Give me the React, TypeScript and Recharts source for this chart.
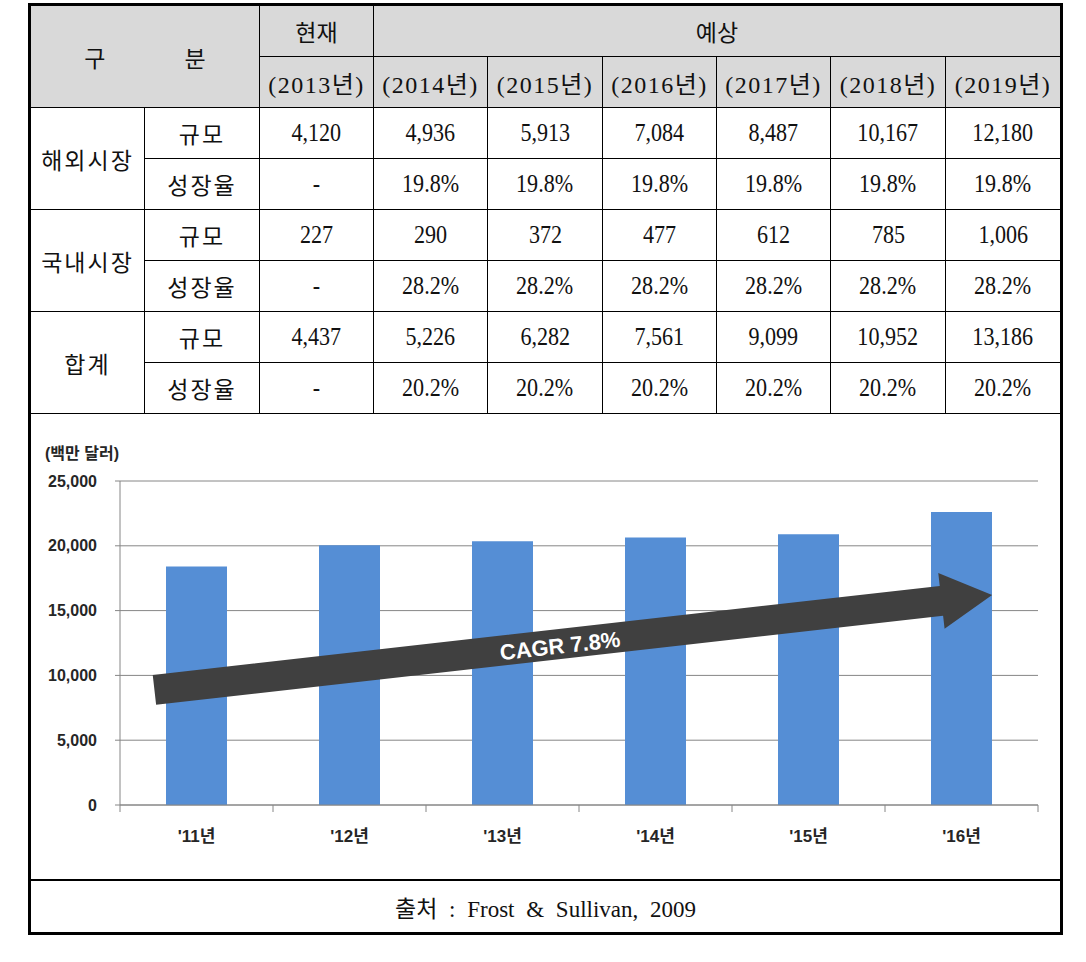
import React from 'react';
import { BarChart, Bar, XAxis, YAxis, CartesianGrid, ReferenceLine } from 'recharts';

// ---------- table data ----------
const headerCurrent = '현재';
const headerForecast = '예상';
const headerYears = ['(2013년)', '(2014년)', '(2015년)', '(2016년)', '(2017년)', '(2018년)', '(2019년)'];
const rowGroups = ['해외시장', '국내시장', '합계'];
const rowKinds = ['규모', '성장율'];
const overseasSize = ['4,120', '4,936', '5,913', '7,084', '8,487', '10,167', '12,180'];
const overseasGrowth = ['-', '19.8%', '19.8%', '19.8%', '19.8%', '19.8%', '19.8%'];
const domesticSize = ['227', '290', '372', '477', '612', '785', '1,006'];
const domesticGrowth = ['-', '28.2%', '28.2%', '28.2%', '28.2%', '28.2%', '28.2%'];
const totalSize = ['4,437', '5,226', '6,282', '7,561', '9,099', '10,952', '13,186'];
const totalGrowth = ['-', '20.2%', '20.2%', '20.2%', '20.2%', '20.2%', '20.2%'];
const sourceText = '출처 : Frost & Sullivan, 2009';

// ---------- chart data ----------
const categories = ["'11년", "'12년", "'13년", "'14년", "'15년", "'16년"];
const marketSize = [18400, 20050, 20350, 20650, 20900, 22600];
const yTicks = [0, 5000, 10000, 15000, 20000, 25000];
const unitLabel = '(백만 달러)';
const cagrLabel = 'CAGR 7.8%';
const cagrStartValue = 9250;
const cagrEndValue = 15930;

const chartData = categories.map((c, i) => ({ cat: c, value: marketSize[i] }));
const tableRows = [
  [overseasSize, overseasGrowth],
  [domesticSize, domesticGrowth],
  [totalSize, totalGrowth],
];

const X0 = 31;
const COLW = 1029 / 9;
const Y0 = 6;
const ROWH = 51;
const SERIF = "'Liberation Serif', 'DejaVu Serif', 'Noto Sans CJK KR', serif";
const SANS = "'Liberation Sans', 'Noto Sans CJK KR', sans-serif";

function Cell(props: any) {
  const { c, r, cs = 1, rs = 1, bg = '#fff', children, style } = props;
  const left = Math.round(X0 + c * COLW);
  const right = Math.round(X0 + (c + cs) * COLW);
  const top = Y0 + r * ROWH;
  return (
    <div
      style={{
        position: 'absolute',
        left,
        top,
        width: right - left,
        height: rs * ROWH,
        boxSizing: 'border-box',
        borderRight: c + cs < 9 ? '1px solid #000' : 'none',
        borderBottom: '1px solid #000',
        background: bg,
        display: 'flex',
        alignItems: 'center',
        justifyContent: 'center',
        fontFamily: SERIF,
        fontSize: 23,
        color: '#111',
        ...style,
      }}
    >
      {children}
    </div>
  );
}

function Num(props: any) {
  return (
    <span style={{ display: 'inline-block', fontSize: 26, transform: 'scaleX(0.85)', whiteSpace: 'nowrap' }}>
      {props.children}
    </span>
  );
}

function XTick(props: any) {
  const { x, y, payload, index, visibleTicksCount } = props;
  const half = payload && typeof payload.offset === 'number' && payload.offset > 0 ? payload.offset : 76.5;
  return (
    <g>
      <line x1={x - half} x2={x - half} y1={y} y2={y + 7} stroke="#868686" />
      {index === visibleTicksCount - 1 && <line x1={x + half} x2={x + half} y1={y} y2={y + 7} stroke="#868686" />}
      <text
        x={x}
        y={y + 31}
        textAnchor="middle"
        dominantBaseline="central"
        fill="#262626"
        fontSize={17}
        fontWeight="bold"
        fontFamily={SANS}
      >
        {payload.value}
      </text>
    </g>
  );
}

function CagrArrow(props: any) {
  const { x1, y1, x2, y2 } = props;
  if ([x1, y1, x2, y2].some((v) => typeof v !== 'number' || isNaN(v))) return <g />;
  const dx = x2 - x1;
  const dy = y2 - y1;
  const sx = x1 - dx * 0.055;
  const sy = y1 - dy * 0.055;
  const tx = x2 + dx * 0.04;
  const ty = y2 + dy * 0.04;
  const L = Math.hypot(tx - sx, ty - sy);
  const ux = (tx - sx) / L;
  const uy = (ty - sy) / L;
  const nx = -uy;
  const ny = ux;
  const half = 15;
  const headHalf = 28;
  const headLen = 51;
  const bx = tx - ux * headLen;
  const by = ty - uy * headLen;
  const pts = [
    [sx + nx * half, sy + ny * half],
    [bx + nx * half, by + ny * half],
    [bx + nx * headHalf, by + ny * headHalf],
    [tx, ty],
    [bx - nx * headHalf, by - ny * headHalf],
    [bx - nx * half, by - ny * half],
    [sx - nx * half, sy - ny * half],
  ]
    .map((p) => `${p[0]},${p[1]}`)
    .join(' ');
  const angle = (Math.atan2(uy, ux) * 180) / Math.PI;
  const t = 0.484;
  const cx = sx + (tx - sx) * t + nx * 2;
  const cy = sy + (ty - sy) * t + ny * 2;
  return (
    <g>
      <polygon points={pts} fill="#404040" />
      <text
        x={cx}
        y={cy}
        textAnchor="middle"
        dominantBaseline="central"
        fill="#ffffff"
        fontSize={22}
        fontWeight="bold"
        fontFamily={SANS}
        transform={`rotate(${angle} ${cx} ${cy})`}
      >
        {cagrLabel}
      </text>
    </g>
  );
}

export default function App() {
  const gray = '#d9d9d9';
  return (
    <div style={{ position: 'absolute', left: 0, top: 0, width: 1086, height: 962, background: '#fff' }}>
      {/* outer frame */}
      <div
        style={{
          position: 'absolute',
          left: 28,
          top: 3,
          width: 1035,
          height: 932,
          boxSizing: 'border-box',
          border: '3px solid #000',
        }}
      />
      {/* header */}
      <Cell c={0} r={0} cs={2} rs={2} bg={gray}>
        <div style={{ display: 'flex', gap: 79 }}>
          <span>구</span>
          <span>분</span>
        </div>
      </Cell>
      <Cell c={2} r={0} bg={gray}>{headerCurrent}</Cell>
      <Cell c={3} r={0} cs={6} bg={gray}>{headerForecast}</Cell>
      {headerYears.map((y, i) => (
        <Cell key={y} c={2 + i} r={1} bg={gray} style={{ fontSize: 24, letterSpacing: 1.5 }}>
          {y}
        </Cell>
      ))}
      {/* body */}
      {rowGroups.map((g, gi) => (
        <React.Fragment key={g}>
          <Cell c={0} r={2 + gi * 2} rs={2} style={{ letterSpacing: 2 }}>
            {g}
          </Cell>
          {rowKinds.map((k, ki) => (
            <React.Fragment key={k}>
              <Cell c={1} r={2 + gi * 2 + ki} style={{ letterSpacing: 2 }}>
                {k}
              </Cell>
              {tableRows[gi][ki].map((v, vi) => (
                <Cell key={vi} c={2 + vi} r={2 + gi * 2 + ki}>
                  <Num>{v}</Num>
                </Cell>
              ))}
            </React.Fragment>
          ))}
        </React.Fragment>
      ))}
      {/* chart */}
      <div
        style={{
          position: 'absolute',
          left: 45,
          top: 444,
          fontFamily: SANS,
          fontWeight: 'bold',
          fontSize: 16,
          color: '#262626',
          lineHeight: '20px',
        }}
      >
        {unitLabel}
      </div>
      <div style={{ position: 'absolute', left: 31, top: 414 }}>
        <BarChart width={1029} height={466} data={chartData} margin={{ top: 67, right: 22, bottom: 0, left: 0 }}>
          <CartesianGrid vertical={false} stroke="#868686" />
          <XAxis
            dataKey="cat"
            height={75}
            axisLine={{ stroke: '#868686' }}
            tickLine={false}
            tickSize={0}
            tickMargin={0}
            interval={0}
            tick={<XTick />}
          />
          <YAxis
            width={89}
            domain={[0, 25000]}
            ticks={yTicks}
            interval={0}
            axisLine={{ stroke: '#868686' }}
            tickLine={{ stroke: '#868686' }}
            tickSize={5}
            tickMargin={18}
            tickFormatter={(v: number) => v.toLocaleString('en-US')}
            tick={{ fill: '#262626', fontSize: 16, fontWeight: 'bold', fontFamily: SANS }}
          />
          <Bar dataKey="value" fill="#558ed5" barSize={61} isAnimationActive={false} />
          <ReferenceLine
            segment={[
              { x: categories[0], y: cagrStartValue },
              { x: categories[categories.length - 1], y: cagrEndValue },
            ]}
            shape={(p: any) => <CagrArrow {...p} />}
          />
        </BarChart>
      </div>
      {/* footer */}
      <div
        style={{
          position: 'absolute',
          left: 31,
          top: 879,
          width: 1029,
          height: 53,
          boxSizing: 'border-box',
          borderTop: '2px solid #000',
          display: 'flex',
          alignItems: 'center',
          justifyContent: 'center',
          fontFamily: SERIF,
          fontSize: 23,
          wordSpacing: 6,
          color: '#111',
        }}
      >
        {sourceText}
      </div>
    </div>
  );
}
